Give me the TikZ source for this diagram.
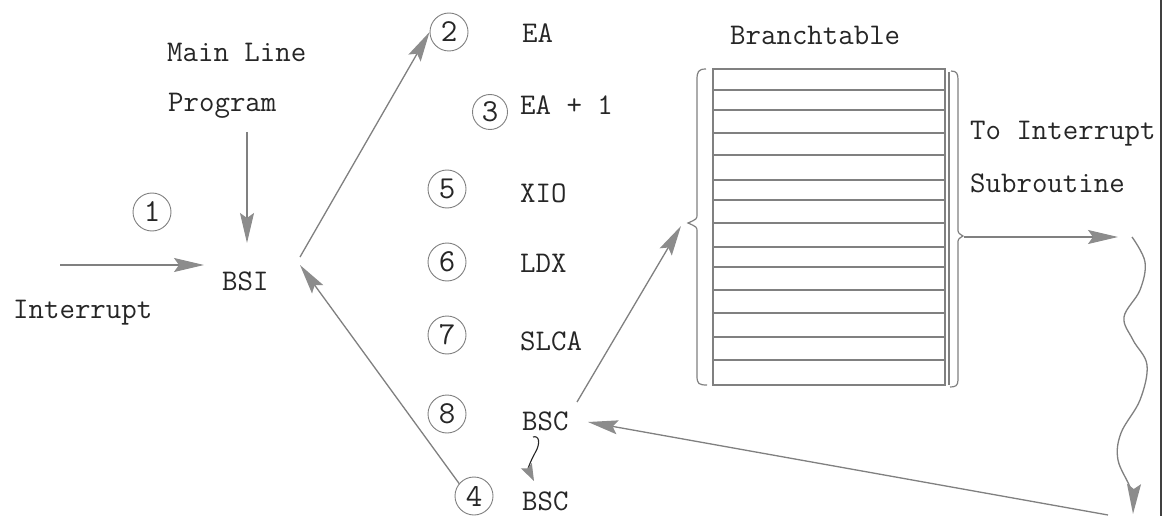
\documentclass[tikz,border=0pt]{standalone}
\usepackage{fontspec}
\usetikzlibrary{arrows.meta}
\definecolor{ink}{HTML}{808080}
\definecolor{head}{HTML}{8C8C8C}
\definecolor{txt}{HTML}{262626}
\tikzset{
  lbl/.style={anchor=base west, inner sep=0pt, text=txt, font=\fontsize{30}{36}\selectfont\ttfamily},
  num/.style={circle, draw=ink, line width=0.9pt, minimum size=38pt, inner sep=0pt, text=txt, font=\fontsize{32}{36}\selectfont\ttfamily},
  conn/.style={draw=ink, line width=1.3pt, -{Stealth[length=30pt,width=14pt,inset=5pt,color=head,fill=head]}},
  smallconn/.style={draw=txt, line width=1.1pt, -{Stealth[length=17pt,width=12pt,inset=3pt,color=head,fill=head]}},
  rule/.style={draw=ink, line width=1.2pt},
}
\begin{document}
\begin{tikzpicture}[x=1pt,y=-1pt]
\useasboundingbox[fill=white] (0,0) rectangle (1165,516);

% text labels
\node[lbl] (ml) at (167,62) {Main Line};
\node[lbl] (prog) at (168,112) {Program};
\node[lbl] (intr) at (13,318) {Interrupt};
\node[lbl] (bsi) at (222,290) {BSI};
\node[lbl] (ea) at (522,43) {EA};
\node[lbl] (ea1) at (520,115) {EA + 1};
\node[lbl] (xio) at (520,203) {XIO};
\node[lbl] (ldx) at (520,272) {LDX};
\node[lbl] (slca) at (520,350) {SLCA};
\node[lbl] (bsca) at (522,430) {BSC};
\node[lbl] (bscb) at (522,510) {BSC};
\node[lbl] (bt) at (730,45) {Branchtable};
\node[lbl] (toi) at (970,140) {To Interrupt};
\node[lbl] (sub) at (970,193) {Subroutine};

% numbered circles
\node[num] (c1) at (152,212) {1};
\node[num] (c2) at (449,32) {2};
\node[num, minimum size=35pt] (c3) at (490,112) {3};
\node[num] (c5) at (447,189) {5};
\node[num] (c6) at (447,262) {6};
\node[num] (c7) at (447,335) {7};
\node[num] (c8) at (447,414) {8};
\node[num] (c4) at (474,496) {4};

% branch table
\draw[rule] (713,69) rectangle (945,385);
\draw[rule] (949,72) -- (949,385);
\foreach \yy in {90,110,133,155,180,200,223,247,267,290,313,337,360}
  \draw[rule] (713,\yy) -- (945,\yy);
% left brace
\draw[rule] (706,69) .. controls (698,69) and (697,72) .. (697,80) -- (697,214)
  .. controls (697,219) .. (688,223) .. controls (697,227) .. (697,232) -- (697,376)
  .. controls (697,384) and (699,385) .. (707,385);
% right brace
\draw[rule] (951,71) .. controls (957,71) and (958,74) .. (958,80) -- (958,228)
  .. controls (958,233) .. (963,236) .. controls (958,239) .. (958,244) -- (958,380)
  .. controls (958,386) and (955,387) .. (950,387);
\coordinate (lbtip) at (681,226);
\coordinate (rbtip) at (964,237);

% connector end points
\coordinate (intS) at (60,265);
\coordinate (intE) at (204,265);
\coordinate (mlS) at (247,132);
\coordinate (mlE) at (247,243);
\coordinate (bsiNE) at (300,257);
\coordinate (bsiSE) at (300,265);
\coordinate (bsc8N) at (577,402);
\coordinate (bsc8E) at (588,422);
\coordinate (subE) at (1118,237);
\coordinate (wS) at (1132,237);
\coordinate (wE) at (1133,514);
\coordinate (retS) at (1108,515);
\coordinate (sqS) at (533,437);
\coordinate (sqE) at (534,481);

% connectors
\draw[conn] (intS) -- (intE);
\draw[conn] (mlS) -- (mlE);
\draw[conn] (bsiNE) -- (c2.west);
\draw[conn] (c4.140) -- (bsiSE);
\draw[conn] (bsc8N) -- (lbtip);
\draw[conn] (rbtip) -- (subE);
\draw[conn] plot[smooth, tension=0.6] coordinates {(wS) (1145,262) (1140,290) (1124,317) (1133,340) (1147,365) (1140,400) (1121,433) (1118,460) (1131,490) (wE)};
\draw[conn] (retS) -- (bsc8E);
\draw[smallconn] (sqS) .. controls (539,435) and (541,443) .. (535,453) .. controls (530,462) and (528,469) .. (sqE);

% scan edge
\draw[line width=2pt, black!75] (1161,0) -- (1161,516);
\end{tikzpicture}
\end{document}
